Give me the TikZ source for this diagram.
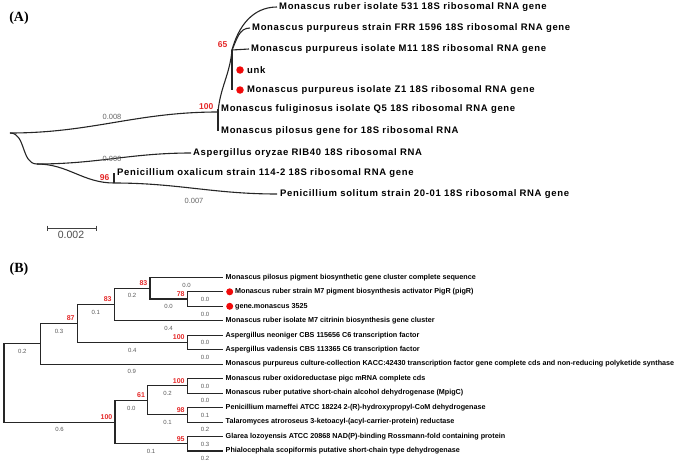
\documentclass[tikz,border=0pt]{standalone}
\usepackage{fontspec}
\setmainfont{Liberation Sans}
\newfontfamily\panelfont{Liberation Serif}
\newfontfamily\leaffont[LetterSpace=7]{Liberation Sans}
\usetikzlibrary{positioning}
\definecolor{bootred}{RGB}{228,40,40}
\definecolor{dotred}{RGB}{240,10,10}

\begin{document}
\begin{tikzpicture}[x=1pt, y=-1pt,
        branch/.style={line width=1.1pt, black!85},
        leafA/.style={font=\leaffont\fontsize{9.5}{10}\selectfont\bfseries, inner sep=0pt},
        leafB/.style={font=\fontsize{7.2}{8}\selectfont\bfseries, inner sep=0pt},
        bootA/.style={font=\fontsize{8.5}{9}\selectfont\bfseries, text=bootred, anchor=south east, inner sep=0pt, xshift=-4.5pt, yshift=2.5pt},
        bootB/.style={font=\fontsize{7}{8}\selectfont\bfseries, text=bootred, anchor=south east, inner sep=0pt, xshift=-2.5pt, yshift=2.5pt},
        blenA/.style={font=\fontsize{7.5}{8}\selectfont, text=black!60, inner sep=0pt},
        blenB/.style={font=\fontsize{6}{7}\selectfont, text=black!65, below=5pt, inner sep=0pt},
        reddot/.style={circle, fill=dotred, minimum size=7.5pt, inner sep=0pt},
        panel/.style={font=\panelfont\fontsize{14}{14}\selectfont\bfseries}
    ]
        \useasboundingbox (0,0) rectangle (677,463);

        % Cây (A)
        \node[panel] (labA) at (19,18) {(A)};
        \coordinate (rootA) at (10,133);
        \coordinate (nA100) at (218,112);
        \coordinate (nA65) at (232,50);
        \coordinate (nAlow) at (37,164);
        \coordinate (nA96) at (114,183);
        \coordinate (eA1) at (277,7);
        \coordinate (eA2) at (250,28);
        \coordinate (eA3) at (249,49);
        \coordinate (eA5) at (232,90);
        \coordinate (eA6) at (218,109);
        \coordinate (eA7) at (218,131);
        \coordinate (eA8) at (191,153);
        \coordinate (eA9) at (114,173);
        \coordinate (eA10) at (277,194);

        \draw[branch] (rootA) to[out=0,in=180] (nA100);
        \draw[branch] (rootA) to[out=0,in=180] (nAlow);
        \draw[branch] (nA100) to[out=85,in=-95] (nA65);
        \draw[branch] (eA6) -- (eA7);
        \draw[branch] (nA65) to[out=75,in=180] (eA1);
        \draw[branch] (nA65) to[out=65,in=180] (eA2);
        \draw[branch] (nA65) -- (eA3);
        \draw[branch] (nA65) -- (eA5);
        \draw[branch] (nAlow) to[out=0,in=180] (eA8);
        \draw[branch] (nAlow) to[out=0,in=180] (nA96);
        \draw[branch] (nA96) -- (eA9);
        \draw[branch] (nA96) to[out=0,in=180] (eA10);

        \node[leafA, right=2pt of eA1] (tA1) {Monascus ruber isolate 531 18S ribosomal RNA gene};
        \node[leafA, right=2pt of eA2] (tA2) {Monascus purpureus strain FRR 1596 18S ribosomal RNA gene};
        \node[leafA, right=2pt of eA3] (tA3) {Monascus purpureus isolate M11 18S ribosomal RNA gene};
        \node[reddot] (dA4) at (240,70) {};
        \node[leafA, right=3pt of dA4] (tA4) {unk};
        \node[reddot] (dA5) at (240,90) {};
        \node[leafA, right=3pt of dA5] (tA5) {Monascus purpureus isolate Z1 18S ribosomal RNA gene};
        \node[leafA, right=3pt of eA6] (tA6) {Monascus fuliginosus isolate Q5 18S ribosomal RNA gene};
        \node[leafA, right=3pt of eA7] (tA7) {Monascus pilosus gene for 18S ribosomal RNA};
        \node[leafA, right=2pt of eA8] (tA8) {Aspergillus oryzae RIB40 18S ribosomal RNA};
        \node[leafA, right=3pt of eA9] (tA9) {Penicillium oxalicum strain 114-2 18S ribosomal RNA gene};
        \node[leafA, right=3pt of eA10] (tA10) {Penicillium solitum strain 20-01 18S ribosomal RNA gene};

        \node[bootA] at (nA100) {100};
        \node[bootA] at (nA65) {65};
        \node[bootA] at (nA96) {96};
        \node[blenA] at (112,117) {0.008};
        \node[blenA] at (112,159) {0.006};
        \node[blenA] at (194,201) {0.007};

        % thước tỉ lệ
        \coordinate (sbL) at (47,228);
        \coordinate (sbR) at (96,228);
        \draw[line width=0.8pt, black!75] (sbL) -- (sbR);
        \draw[line width=0.8pt, black!75] ([yshift=2.5pt]sbL) -- ([yshift=-2.5pt]sbL);
        \draw[line width=0.8pt, black!75] ([yshift=2.5pt]sbR) -- ([yshift=-2.5pt]sbR);
        \node[font=\fontsize{10.5}{11}\selectfont, text=black!70] (sbT) at (71,234.5) {0.002};

        % Cây (B)
        \node[panel] (labB) at (19,269) {(B)};
        \coordinate (rootB) at (4,383.0);
        \coordinate (nB1) at (40.7,343.8);
        \coordinate (nB2) at (77.3,323.4);
        \coordinate (nB3) at (114.3,304.5);
        \coordinate (nB4) at (150,288.2);
        \coordinate (nB5) at (187.3,299.0);
        \coordinate (nB6) at (187.3,342.4);
        \coordinate (nB7) at (115,422.1);
        \coordinate (nB8) at (147.7,400.4);
        \coordinate (nB9) at (187.3,385.9);
        \coordinate (nB10) at (187.3,414.9);
        \coordinate (nB11) at (187.3,443.8);
        \coordinate (lB1) at (223,277.3);
        \coordinate (lB2) at (223,291.8);
        \coordinate (lB3) at (223,306.3);
        \coordinate (lB4) at (223,320.7);
        \coordinate (lB5) at (223,335.2);
        \coordinate (lB6) at (223,349.7);
        \coordinate (lB7) at (223,364.1);
        \coordinate (lB8) at (223,378.6);
        \coordinate (lB9) at (223,393.1);
        \coordinate (lB10) at (223,407.6);
        \coordinate (lB11) at (223,422.1);
        \coordinate (lB12) at (223,436.5);
        \coordinate (lB13) at (223,451.0);

        \draw[branch] (rootB) |- (nB1) node[blenB, pos=0.75] {0.2};
        \draw[branch] (rootB) |- (nB7) node[blenB, pos=0.75] {0.6};
        \draw[branch] (nB1) |- (nB2) node[blenB, pos=0.75] {0.3};
        \draw[branch] (nB1) |- (lB7) node[blenB, pos=0.75] {0.9};
        \draw[branch] (nB2) |- (nB3) node[blenB, pos=0.75] {0.1};
        \draw[branch] (nB2) |- (nB6) node[blenB, pos=0.75] {0.4};
        \draw[branch] (nB3) |- (nB4) node[blenB, pos=0.75] {0.2};
        \draw[branch] (nB3) |- (lB4) node[blenB, pos=0.75] {0.4};
        \draw[branch] (nB4) |- (lB1) node[blenB, pos=0.75] {0.0};
        \draw[branch] (nB4) |- (nB5) node[blenB, pos=0.75] {0.0};
        \draw[branch] (nB5) |- (lB2) node[blenB, pos=0.75] {0.0};
        \draw[branch] (nB5) |- (lB3) node[blenB, pos=0.75] {0.0};
        \draw[branch] (nB6) |- (lB5) node[blenB, pos=0.75] {0.0};
        \draw[branch] (nB6) |- (lB6) node[blenB, pos=0.75] {0.0};
        \draw[branch] (nB7) |- (nB8) node[blenB, pos=0.75] {0.0};
        \draw[branch] (nB7) |- (nB11) node[blenB, pos=0.75] {0.1};
        \draw[branch] (nB8) |- (nB9) node[blenB, pos=0.75] {0.2};
        \draw[branch] (nB8) |- (nB10) node[blenB, pos=0.75] {0.1};
        \draw[branch] (nB9) |- (lB8) node[blenB, pos=0.75] {0.0};
        \draw[branch] (nB9) |- (lB9) node[blenB, pos=0.75] {0.0};
        \draw[branch] (nB10) |- (lB10) node[blenB, pos=0.75] {0.1};
        \draw[branch] (nB10) |- (lB11) node[blenB, pos=0.75] {0.2};
        \draw[branch] (nB11) |- (lB12) node[blenB, pos=0.75] {0.3};
        \draw[branch] (nB11) |- (lB13) node[blenB, pos=0.75] {0.2};

        \node[leafB, right=2.5pt of lB1] (tB1) {Monascus pilosus pigment biosynthetic gene cluster complete sequence};
        \node[reddot, minimum size=7pt, right=3pt of lB2] (dB2) {};
        \node[leafB, right=1.5pt of dB2] (tB2) {Monascus ruber strain M7 pigment biosynthesis activator PigR (pigR)};
        \node[reddot, minimum size=7pt, right=3pt of lB3] (dB3) {};
        \node[leafB, right=1.5pt of dB3] (tB3) {gene.monascus 3525};
        \node[leafB, right=2.5pt of lB4] (tB4) {Monascus ruber isolate M7 citrinin biosynthesis gene cluster};
        \node[leafB, right=2.5pt of lB5] (tB5) {Aspergillus neoniger CBS 115656 C6 transcription factor};
        \node[leafB, right=2.5pt of lB6] (tB6) {Aspergillus vadensis CBS 113365 C6 transcription factor};
        \node[leafB, right=2.5pt of lB7] (tB7) {Monascus purpureus culture-collection KACC:42430 transcription factor gene complete cds and non-reducing polyketide synthase};
        \node[leafB, right=2.5pt of lB8] (tB8) {Monascus ruber oxidoreductase pigc mRNA complete cds};
        \node[leafB, right=2.5pt of lB9] (tB9) {Monascus ruber putative short-chain alcohol dehydrogenase (MpigC)};
        \node[leafB, right=2.5pt of lB10] (tB10) {Penicillium marneffei ATCC 18224 2-(R)-hydroxypropyl-CoM dehydrogenase};
        \node[leafB, right=2.5pt of lB11] (tB11) {Talaromyces atroroseus 3-ketoacyl-(acyl-carrier-protein) reductase};
        \node[leafB, right=2.5pt of lB12] (tB12) {Glarea lozoyensis ATCC 20868 NAD(P)-binding Rossmann-fold containing protein};
        \node[leafB, right=2.5pt of lB13] (tB13) {Phialocephala scopiformis putative short-chain type dehydrogenase};

        \node[bootB] at (nB2) {87};
        \node[bootB] at (nB3) {83};
        \node[bootB] at (nB4) {83};
        \node[bootB] at (nB5) {78};
        \node[bootB] at (nB6) {100};
        \node[bootB] at (nB7) {100};
        \node[bootB] at (nB8) {61};
        \node[bootB] at (nB9) {100};
        \node[bootB] at (nB10) {98};
        \node[bootB] at (nB11) {95};
    \end{tikzpicture}
\end{document}
